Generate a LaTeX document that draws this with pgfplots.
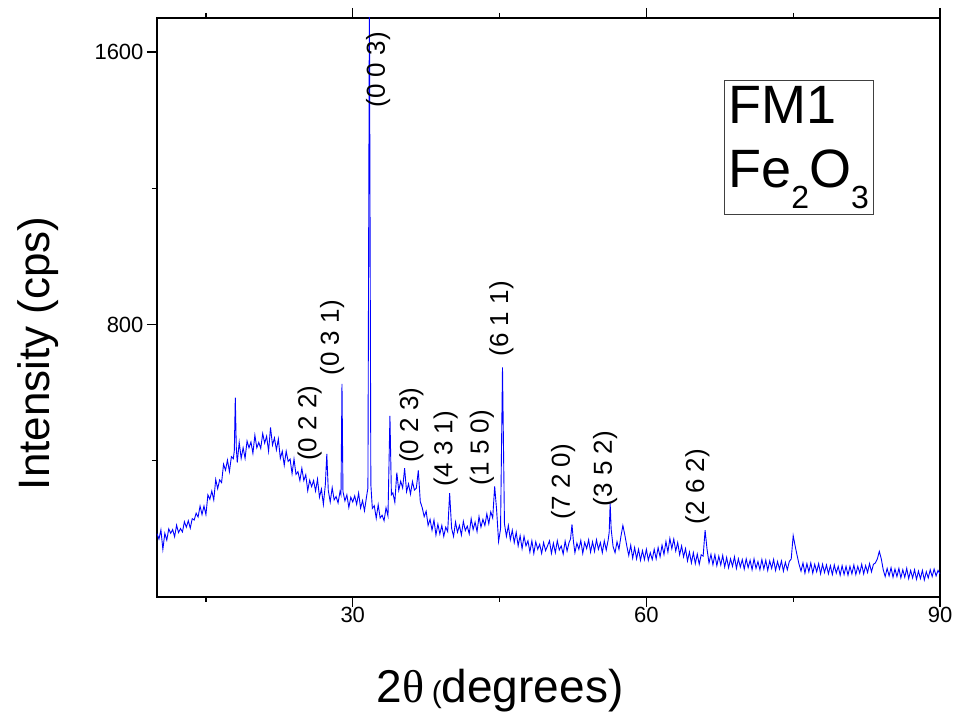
\documentclass[border=0pt]{standalone}
\usepackage{fontspec}
\setmainfont{Liberation Sans}
\newfontfamily\serifgr{Liberation Serif}
\usepackage{pgfplots}
\usepackage{pgfplotstable}
\pgfplotsset{compat=1.18}
\definecolor{xrdblue}{RGB}{0,0,255}

% 2theta (deg)  intensity (cps)
\pgfplotstableread{
x y
10.0 186
10.2 170
10.4 197
10.6 140
10.8 187
11.0 167
11.2 200
11.4 187
11.6 198
11.8 177
12.0 211
12.2 189
12.4 201
12.6 191
12.8 221
13.0 205
13.2 224
13.4 202
13.6 230
13.8 226
14.0 246
14.2 235
14.4 267
14.6 242
14.8 267
15.0 242
15.2 300
15.4 287
15.6 311
15.8 285
16.0 345
16.2 318
16.4 344
16.6 336
16.8 390
17.0 372
17.2 402
17.4 368
17.6 412
17.8 406
17.9 430
18.0 585
18.1 440
18.2 395
18.4 454
18.6 407
18.8 438
19.0 407
19.2 458
19.4 438
19.6 455
19.8 422
20.0 475
20.2 438
20.4 454
20.6 436
20.8 480
21.0 452
21.2 472
21.4 428
21.6 498
21.8 446
22.0 467
22.2 432
22.4 464
22.6 407
22.8 428
23.0 387
23.2 428
23.4 398
23.6 405
23.8 362
24.0 405
24.2 360
24.4 368
24.6 342
24.8 378
25.0 342
25.2 359
25.4 312
25.6 343
25.8 324
26.0 342
26.2 311
26.4 346
26.6 293
26.8 317
27.0 272
27.2 330
27.35 420
27.5 313
27.7 279
27.9 321
28.1 285
28.3 295
28.5 276
28.7 310
28.8 300
28.9 626
29.0 310
29.2 282
29.4 300
29.6 263
29.8 293
30.0 279
30.2 297
30.4 272
30.6 305
30.8 261
31.0 283
31.2 253
31.4 293
31.55 320
31.7 1760
31.85 330
32.0 260
32.2 268
32.4 231
32.6 271
32.8 232
33.0 240
33.2 224
33.4 262
33.6 238
33.8 532
33.95 300
34.1 306
34.3 278
34.5 365
34.7 313
34.9 340
35.1 320
35.3 378
35.5 309
35.7 332
35.9 302
36.1 339
36.3 314
36.5 320
36.7 372
36.9 280
37.1 262
37.3 236
37.5 252
37.7 210
37.9 228
38.1 196
38.3 226
38.5 182
38.7 214
38.9 185
39.1 210
39.3 178
39.5 205
39.7 192
39.9 305
40.1 202
40.3 178
40.5 220
40.7 190
40.9 210
41.1 182
41.3 222
41.5 195
41.7 208
41.9 185
42.1 230
42.3 198
42.5 220
42.7 192
42.9 236
43.1 205
43.3 228
43.5 210
43.7 244
43.9 215
44.1 250
44.3 232
44.5 325
44.7 255
44.9 163
45.1 200
45.3 674
45.5 215
45.7 178
45.9 210
46.1 168
46.3 196
46.5 160
46.7 190
46.9 150
47.1 180
47.3 142
47.5 178
47.7 150
47.9 165
48.1 132
48.3 165
48.5 128
48.7 162
48.9 140
49.1 155
49.3 128
49.5 160
49.7 136
49.9 150
50.1 165
50.3 128
50.5 158
50.7 130
50.9 165
51.1 138
51.3 150
51.5 126
51.7 164
51.9 135
52.1 160
52.25 170
52.4 213
52.55 162
52.7 130
52.9 158
53.1 140
53.3 166
53.5 128
53.7 160
53.9 142
54.1 168
54.3 132
54.5 162
54.7 134
54.9 168
55.1 140
55.3 160
55.5 130
55.7 165
55.9 138
56.1 168
56.2 190
56.3 275
56.4 200
56.6 148
56.8 130
57.0 162
57.2 140
57.4 178
57.6 210
57.8 182
58.0 150
58.2 122
58.4 152
58.6 114
58.8 145
59.0 112
59.2 140
59.4 108
59.6 136
59.8 110
60.0 140
60.2 108
60.4 130
60.6 110
60.8 140
61.0 112
61.2 145
61.4 118
61.6 152
61.8 125
62.0 163
62.2 132
62.4 172
62.6 142
62.8 170
63.0 135
63.2 160
63.4 124
63.6 150
63.8 118
64.0 142
64.2 106
64.4 132
64.6 100
64.8 130
65.0 98
65.2 126
65.4 96
65.6 124
65.8 120
66.0 196
66.2 140
66.4 100
66.6 125
66.8 95
67.0 124
67.2 92
67.4 120
67.6 94
67.8 122
68.0 88
68.2 116
68.4 86
68.6 112
68.8 90
69.0 118
69.2 84
69.4 112
69.6 88
69.8 110
70.0 82
70.2 112
70.4 86
70.6 108
70.8 80
71.0 112
71.2 84
71.4 104
71.6 80
71.8 110
72.0 82
72.2 108
72.4 78
72.6 106
72.8 84
73.0 110
73.2 78
73.4 104
73.6 82
73.8 106
74.0 76
74.2 102
74.4 80
74.6 104
74.8 112
75.0 180
75.2 150
75.4 122
75.6 96
75.8 76
76.0 100
76.2 70
76.4 98
76.6 74
76.8 100
77.0 70
77.2 96
77.4 74
77.6 98
77.8 68
78.0 96
78.2 72
78.4 94
78.6 68
78.8 92
79.0 66
79.2 94
79.4 70
79.6 90
79.8 64
80.0 92
80.2 66
80.4 90
80.6 64
80.8 90
81.0 68
81.2 94
81.4 66
81.6 90
81.8 70
82.0 96
82.2 68
82.4 92
82.6 72
82.8 98
83.0 74
83.2 96
83.4 100
83.6 112
83.8 134
84.0 112
84.2 80
84.4 60
84.6 84
84.8 62
85.0 86
85.2 58
85.4 82
85.6 60
85.8 84
86.0 56
86.2 80
86.4 58
86.6 84
86.8 54
87.0 78
87.2 56
87.4 80
87.6 52
87.8 76
88.0 54
88.2 78
88.4 50
88.6 74
88.8 56
89.0 80
89.2 60
89.4 82
89.6 62
89.8 78
90.0 68
}\xrd

\begin{document}
\begin{tikzpicture}
\begin{axis}[
    width=783pt, height=579pt,
    scale only axis,
    xmin=10, xmax=90,
    ymin=0, ymax=1700,
    xtick={30,60,90},
    minor xtick={15,45,75},
    ytick={800,1600},
    minor ytick={400,1200},
    xtick pos=both,
    ytick pos=left,
    tick align=outside,
    major tick length=10pt,
    minor tick length=5pt,
    every tick/.style={black, line width=1.2pt},
    axis line style={line width=1.6pt},
    /pgf/number format/assume math mode=true,
    /pgf/number format/1000 sep={},
    tick label style={font=\fontsize{22}{24}\selectfont},
    xticklabel style={yshift=3pt},
    xlabel={2{\serifgr θ}\,{\fontsize{30}{30}\selectfont(}degrees)},
    xlabel style={font=\fontsize{46}{50}\selectfont,
        at={(axis description cs:0.438,-0.183)}, anchor=base, inner sep=0pt},
    ylabel={Intensity (cps)},
    ylabel style={font=\fontsize{44}{48}\selectfont,
        at={(axis description cs:-0.1367,0.421)}, anchor=base, inner sep=0pt},
    clip=true,
]
\addplot[xrdblue, line width=0.9pt] table[x=x, y=y] {\xrd};

\coordinate (sw) at (rel axis cs:0,0);

\begin{scope}[every node/.style={rotate=90, anchor=west, inner sep=0pt,
        font=\fontsize{26}{28}\selectfont}]
\node at (axis cs:25.6,399) {(0 2 2)};
\node at (axis cs:27.9,650) {(0 3 1)};
\node at (axis cs:32.6,1437) {(0 0 3)};
\node at (axis cs:36.0,393) {(0 2 3)};
\node at (axis cs:39.5,325) {(4 3 1)};
\node at (axis cs:43.2,328) {(1 5 0)};
\node at (axis cs:45.2,706) {(6 1 1)};
\node at (axis cs:51.5,228) {(7 2 0)};
\node at (axis cs:55.8,266) {(3 5 2)};
\node at (axis cs:65.2,213) {(2 6 2)};
\end{scope}

\node[draw=black!75, line width=0.7pt, anchor=north west, align=left,
      inner xsep=4pt, inner ysep=6pt, font=\fontsize{54}{64}\selectfont]
  at (rel axis cs:0.724,0.893)
  {FM1\\Fe\raisebox{-21pt}{\fontsize{32}{32}\selectfont 2}O\raisebox{-21pt}{\fontsize{32}{32}\selectfont 3}\hspace{2pt}};
\end{axis}
\pgfresetboundingbox
\path (sw) ++(-157pt,-122pt) rectangle ++(958pt,719pt);
\end{tikzpicture}
\end{document}
